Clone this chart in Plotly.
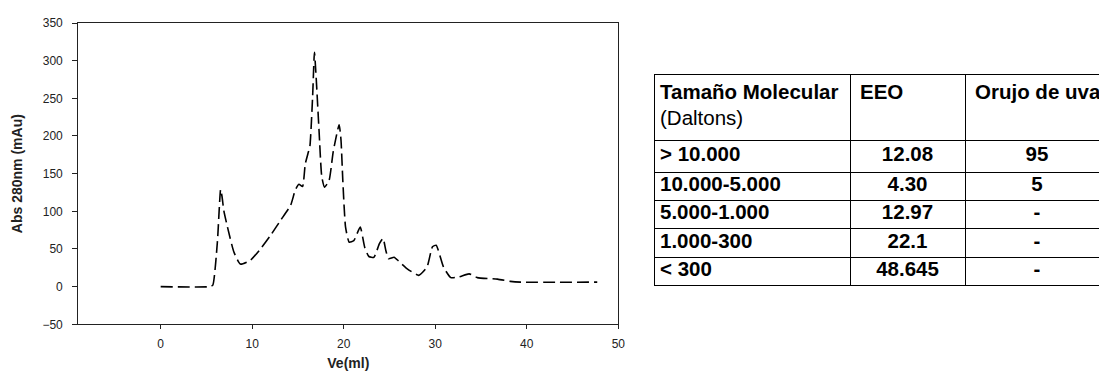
import plotly.graph_objects as go

# Chromatogram (Ve in ml vs Abs 280nm in mAu)
ve = [0, 5.4, 5.7, 6.2, 6.55, 6.7, 6.9, 7.3, 8.0, 8.7, 9.8, 10.9, 12.0, 13.1, 14.2, 14.7,
      15.1, 15.5, 15.8, 16.1, 16.3, 16.6, 16.8, 17.0, 17.3, 17.6, 17.9, 18.4, 18.85, 19.5,
      19.7, 19.9, 20.2, 20.6, 21.1, 21.8, 22.3, 22.75, 23.3, 23.9, 24.3, 24.6, 24.9, 25.5,
      26.0, 26.9, 28.2, 29.1, 29.7, 30.1, 30.9, 31.7, 32.6, 33.7, 34.6, 36.8, 38.2, 39.3, 47.7]
absorb = [0, 0, 2, 60, 129, 120, 101, 79, 46, 30, 35, 50, 68, 88, 108, 128,
          136, 133, 163, 177, 186, 252, 311, 275, 208, 146, 132, 141, 179, 215,
          195, 141, 79, 59, 61, 79, 52, 40, 39, 57, 64, 48, 37, 39,
          34, 24, 15, 26, 53, 55, 26, 12, 13, 17, 12, 10, 7, 6, 6]

x_ticks = [0, 10, 20, 30, 40, 50]
y_ticks = [-50, 0, 50, 100, 150, 200, 250, 300, 350]

# Table contents
header_titles = ["Tamaño Molecular", "EEO", "Orujo de uva"]
header_sub = "(Daltons)"
size_labels = ["> 10.000", "10.000-5.000", "5.000-1.000", "1.000-300", "< 300"]
eeo = ["12.08", "4.30", "12.97", "22.1", "48.645"]
orujo = ["95", "5", "-", "-", "-"]

# ---- layout geometry ----
W, H = 1099, 371
TABLE_LEFT = 655
visible_w = W - TABLE_LEFT              # table continues past the right edge
col_edges = [0, 195, 310, 454]
row_edges = [0, 65, 97, 125, 153, 182, 210]
pad = [5, 10, 10]

fig = go.Figure()
fig.add_trace(go.Scatter(
    x=ve, y=absorb, mode="lines",
    line=dict(color="black", width=1.6, dash="12px,5px", shape="spline", smoothing=0.5),
    showlegend=False, hoverinfo="skip",
))

tfont = "Liberation Sans, Arial, sans-serif"
TS = 20.5

fig.add_trace(go.Scatter(
    x=[col_edges[i] + pad[i] for i in range(3)],
    y=[19] * 3,
    text=[f"<b>{t}</b>" for t in header_titles],
    mode="text", textposition="middle right",
    textfont=dict(family=tfont, size=TS, color="black"),
    xaxis="x2", yaxis="y2", showlegend=False, hoverinfo="skip", cliponaxis=True,
))
fig.add_trace(go.Scatter(
    x=[col_edges[0] + pad[0]], y=[45], text=[header_sub],
    mode="text", textposition="middle right",
    textfont=dict(family=tfont, size=TS, color="black"),
    xaxis="x2", yaxis="y2", showlegend=False, hoverinfo="skip",
))
row_mid = [(row_edges[i] + row_edges[i + 1]) / 2 for i in range(1, len(row_edges) - 1)]
fig.add_trace(go.Scatter(
    x=[col_edges[0] + pad[0]] * len(size_labels), y=row_mid,
    text=[f"<b>{s}</b>" for s in size_labels],
    mode="text", textposition="middle right",
    textfont=dict(family=tfont, size=TS, color="black"),
    xaxis="x2", yaxis="y2", showlegend=False, hoverinfo="skip",
))
for ci, vals in ((1, eeo), (2, orujo)):
    cx = (col_edges[ci] + col_edges[ci + 1]) / 2
    fig.add_trace(go.Scatter(
        x=[cx] * len(vals), y=row_mid,
        text=[f"<b>{v}</b>" for v in vals],
        mode="text", textposition="middle center",
        textfont=dict(family=tfont, size=TS, color="black"),
        xaxis="x2", yaxis="y2", showlegend=False, hoverinfo="skip",
    ))

axfont = dict(family="Liberation Sans, Arial", size=12, color="#222")
fig.update_layout(
    width=W, height=H,
    margin=dict(l=0, r=0, t=0, b=0, autoexpand=False),
    paper_bgcolor="white", plot_bgcolor="white",
    xaxis=dict(
        domain=[78.3 / W, 618.3 / W], range=[-9, 50], tickvals=x_ticks, automargin=False,
        showgrid=False, zeroline=False, showline=True, linecolor="#222", linewidth=1.2,
        mirror=True, ticks="outside", ticklen=4, tickcolor="#222", ticklabelstandoff=4,
        tickfont=axfont,
        title=dict(text="<b>Ve(ml)</b>", font=dict(family="Liberation Sans, Arial", size=14, color="#222"), standoff=8),
    ),
    yaxis=dict(
        domain=[1 - 324.3 / H, 1 - 23 / H], range=[-50, 350], tickvals=y_ticks, automargin=False,
        showgrid=False, zeroline=False, showline=True, linecolor="#222", linewidth=1.2,
        mirror=True, ticks="outside", ticklen=5, tickcolor="#222", ticklabelstandoff=7,
        tickfont=axfont,
        title=dict(text="<b>Abs 280nm (mAu)</b>", font=dict(family="Liberation Sans, Arial", size=14, color="#222"), standoff=16),
    ),
    xaxis2=dict(
        domain=[TABLE_LEFT / W, 1.0], range=[0, visible_w], automargin=False,
        tickvals=col_edges, showticklabels=False, ticks="",
        showgrid=True, gridcolor="black", gridwidth=1.3, zeroline=False,
        showline=True, linecolor="black", linewidth=1.3, mirror=True, anchor="y2",
        fixedrange=True,
    ),
    yaxis2=dict(
        domain=[1 - 285 / H, 1 - 75 / H], range=[row_edges[-1], row_edges[0]], automargin=False,
        tickvals=row_edges, showticklabels=False, ticks="",
        showgrid=True, gridcolor="black", gridwidth=1.3, zeroline=False,
        showline=True, linecolor="black", linewidth=1.3, mirror=False, anchor="x2",
        fixedrange=True,
    ),
)

fig.write_html("out.html", config={"displayModeBar": False},
               post_script="document.body.style.margin='0';document.body.style.overflow='hidden';")
